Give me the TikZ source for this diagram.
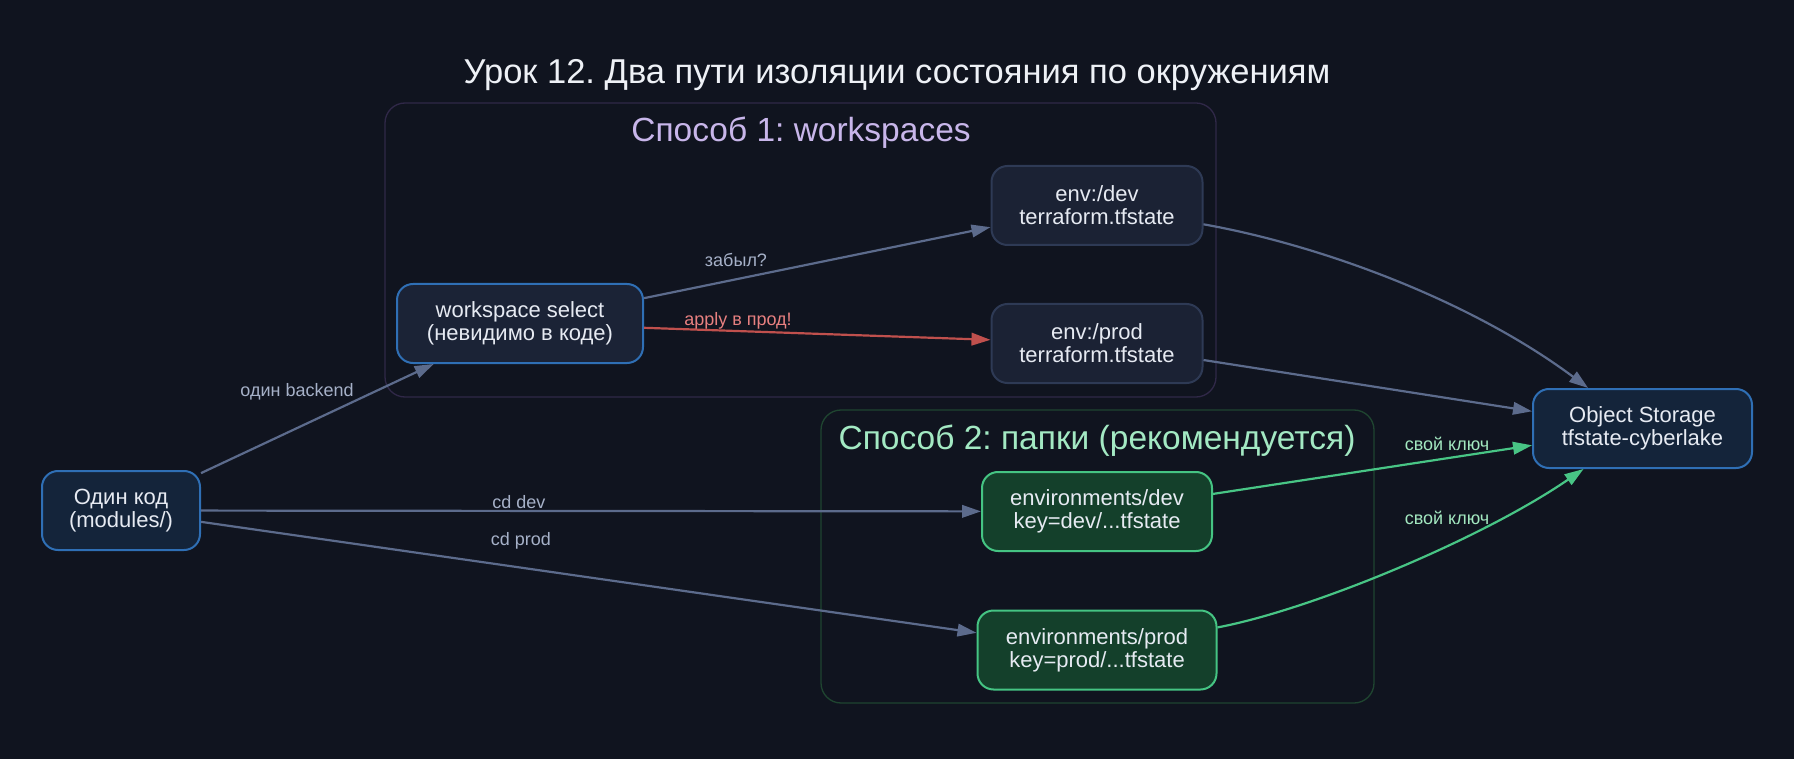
\documentclass[tikz,border=0pt]{standalone}
\usepackage{fontspec}
\setmainfont{Liberation Sans}
\usetikzlibrary{arrows.meta}
\definecolor{bg}{HTML}{10141F}
\definecolor{titletext}{HTML}{EEF1F6}
\definecolor{nodetext}{HTML}{E6EAF2}
\definecolor{bluefill}{HTML}{14243A}
\definecolor{wsfill}{HTML}{1B2336}
\definecolor{blueborder}{HTML}{2F6FB5}
\definecolor{envfill}{HTML}{1B2234}
\definecolor{envborder}{HTML}{2E3A55}
\definecolor{greenfill}{HTML}{14402B}
\definecolor{greenborder}{HTML}{45C483}
\definecolor{cloneborder}{HTML}{302848}
\definecolor{cltwoborder}{HTML}{1F4530}
\definecolor{clonetext}{HTML}{C8B6EA}
\definecolor{cltwotext}{HTML}{A3E9C3}
\definecolor{edgegray}{HTML}{5C6B8C}
\definecolor{labelgray}{HTML}{A6B1C8}
\definecolor{edgered}{HTML}{C0504D}
\definecolor{labelred}{HTML}{E88080}
\definecolor{edgegreen}{HTML}{48C585}
\definecolor{labelgreen}{HTML}{A3E8C0}
\frenchspacing
\begin{document}
\begin{tikzpicture}[x=1pt,y=-1pt,
  box/.style={rounded corners=16pt, line width=2pt, align=center, text=nodetext,
    font=\fontsize{22}{23}\selectfont, minimum height=79pt, inner sep=0pt},
  bluebox/.style={box, draw=blueborder, fill=bluefill},
  wsbox/.style={box, draw=blueborder, fill=wsfill},
  envbox/.style={box, draw=envborder, fill=envfill},
  greenbox/.style={box, draw=greenborder, fill=greenfill},
  cluster/.style={rounded corners=20pt, line width=1.3pt, inner sep=0pt},
  conn/.style={line width=2.2pt, draw=edgegray, -{Triangle[length=19pt,width=12.5pt]}},
  redconn/.style={conn, draw=edgered, -{Triangle[length=19pt,width=12.5pt,fill=edgered]}},
  greenconn/.style={conn, draw=edgegreen, -{Triangle[length=19pt,width=12.5pt,fill=edgegreen]}},
  elabel/.style={font=\fontsize{18}{20}\selectfont, inner sep=0pt, text=labelgray},
  cltitle/.style={font=\fontsize{33.5}{36}\selectfont, inner sep=0pt}
]
\fill[bg] (0,0) rectangle (1794,759);
\useasboundingbox (0,0) rectangle (1794,759);

% title
\node[anchor=base, text=titletext, font=\fontsize{34.5}{40}\selectfont, inner sep=0pt] (title) at (897,84)
  {Урок 12. Два пути изоляции состояния по окружениям};

% clusters
\node[cluster, draw=cloneborder, minimum width=831pt, minimum height=294pt] (cl1) at (800.5,250) {};
\node[cluster, draw=cltwoborder, minimum width=553pt, minimum height=293pt] (cl2) at (1097.5,556.5) {};
\node[cltitle, text=clonetext] (cl1t) at (801,133) {Способ 1: workspaces};
\node[cltitle, text=cltwotext] (cl2t) at (1097,441) {Способ 2: папки (рекомендуется)};

% nodes
\node[bluebox, minimum width=158pt] (code) at (121,510.5) {Один код\\(modules/)};
\node[wsbox, minimum width=246pt] (ws) at (520,323.5) {workspace select\\(невидимо в коде)};
\node[envbox, minimum width=211pt] (edev) at (1097,205.5) {env:/dev\\terraform.tfstate};
\node[envbox, minimum width=211pt] (eprod) at (1097,343.5) {env:/prod\\terraform.tfstate};
\node[bluebox, minimum width=219pt] (os) at (1642.5,428.5) {Object Storage\\tfstate-cyberlake};
\node[greenbox, minimum width=230pt] (gdev) at (1097,511.5) {environments/dev\\key=dev/...tfstate};
\node[greenbox, minimum width=239pt] (gprod) at (1097,650) {environments/prod\\key=prod/...tfstate};

% edges
\draw[conn] (code) -- (ws);
\draw[conn] (code) -- (gdev);
\draw[conn] (code) -- (gprod);
\draw[conn] (ws) -- (edev);
\draw[redconn] (ws) -- (eprod);
\draw[conn] (edev) .. controls (1320,245) and (1470,300) .. (os);
\draw[conn] (eprod) -- (os);
\draw[greenconn] (gdev) -- (os);
\draw[greenconn] (gprod) .. controls (1310,610) and (1480,540) .. (os);

% edge labels
\node[elabel] (l1) at (297,392) {один backend};
\node[elabel] (l2) at (519,502) {cd dev};
\node[elabel] (l3) at (521,541) {cd prod};
\node[elabel] (l4) at (736,259.5) {забыл?};
\node[elabel, text=labelred] (l5) at (738,321) {apply в прод!};
\node[elabel, text=labelgreen] (l6) at (1447,444) {свой ключ};
\node[elabel, text=labelgreen] (l7) at (1447,518) {свой ключ};
\end{tikzpicture}
\end{document}
